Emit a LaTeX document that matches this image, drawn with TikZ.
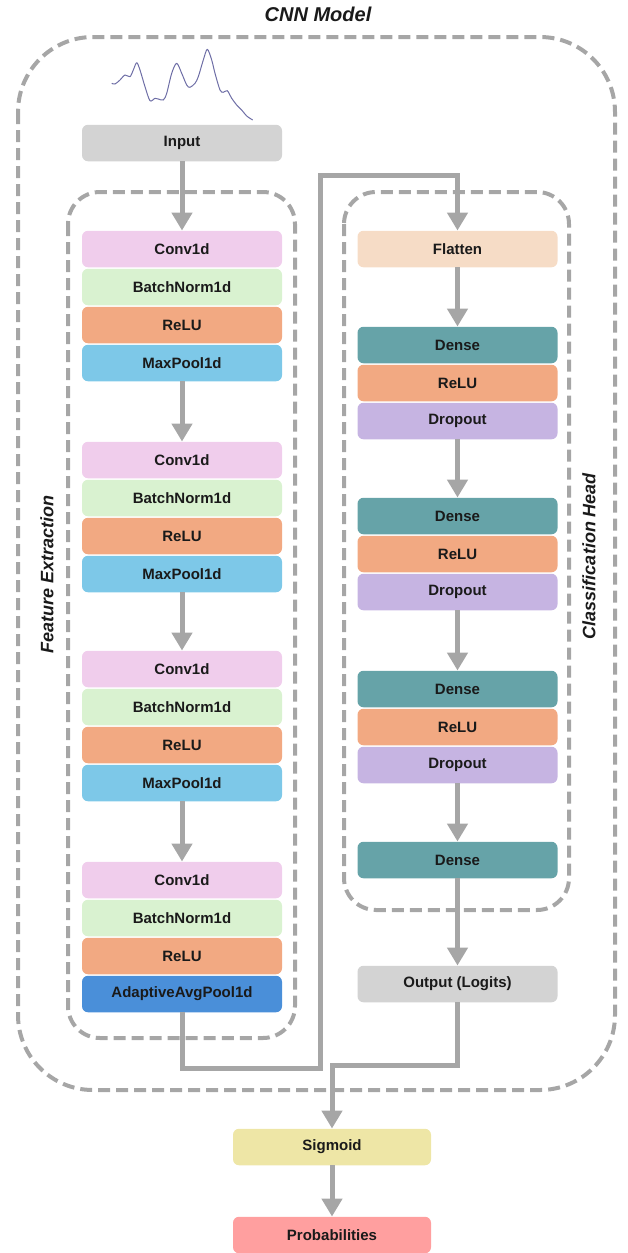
\documentclass[tikz,border=0pt]{standalone}
\usepackage{fontspec}
\setmainfont{Liberation Sans}
\usetikzlibrary{arrows.meta}
\definecolor{lingray}{HTML}{A6A6A6}
\definecolor{cInput}{HTML}{D3D3D3}
\definecolor{cConv}{HTML}{F0CDEC}
\definecolor{cBN}{HTML}{D9F2D0}
\definecolor{cRelu}{HTML}{F2A982}
\definecolor{cPool}{HTML}{7DC8E8}
\definecolor{cAda}{HTML}{4A8FD9}
\definecolor{cFlat}{HTML}{F6DCC6}
\definecolor{cDense}{HTML}{66A3A8}
\definecolor{cDrop}{HTML}{C6B4E2}
\definecolor{cSig}{HTML}{EEE6A6}
\definecolor{cProb}{HTML}{FF9F9F}
\definecolor{cWave}{HTML}{6E6EA6}
\definecolor{cText}{HTML}{1A1A1A}
\tikzset{
  layer/.style={rectangle, rounded corners=6pt, minimum width=200pt, minimum height=36.5pt, inner sep=0pt, text=cText, font=\fontsize{15}{18}\bfseries\selectfont},
  arr/.style={draw=lingray, line width=5pt, -{Triangle[width=20pt,length=18pt]}},
  grp/.style={draw=lingray, line width=4pt, dash pattern=on 12pt off 6pt},
  grplabel/.style={font=\fontsize{18}{21}\bfseries\itshape\selectfont, text=cText},
}
\begin{document}
\begin{tikzpicture}[x=1pt,y=-1pt]
\useasboundingbox (0,0) rectangle (628,1253);
% groups
\draw[grp, rounded corners=75pt] (18,37) rectangle (615,1090);
\draw[grp, rounded corners=32pt] (68,192) rectangle (295,1038);
\draw[grp, rounded corners=32pt] (344,192) rectangle (569,910);
\node[font=\fontsize{20}{24}\bfseries\itshape\selectfont, text=cText] (title) at (318,14) {CNN Model};
\node[grplabel, rotate=90] (fe) at (47,574) {Feature Extraction};
\node[grplabel, rotate=90] (ch) at (589,556) {Classification Head};
% waveform
\draw[cWave, line width=1pt, line join=round] plot[smooth, tension=0.5] coordinates {
(111.7,83.3) (115,84) (120,80) (125,75) (130,76.7) (133.3,70) (136.7,62.7) (140,70) (145,86.7) (150,100.7) (155,98.3) (158.3,99) (163.3,100) (166.7,93.3) (171.7,73.3) (176.7,63.3) (181.7,73.3) (186.7,85) (190,87.3) (195,83.3) (198.3,76.7) (203.3,60) (207.3,49.3) (211.7,60) (215,73.3) (220,90) (223.3,92.3) (227.3,90.7) (231.7,98.3) (236.7,105) (241.7,110) (246.7,116) (252.7,120)};
% left column
\node[layer, fill=cInput] (inp) at (182,143) {Input};
\node[layer, fill=cConv] (c1) at (182,249) {Conv1d};
\node[layer, fill=cBN] (b1) at (182,287) {BatchNorm1d};
\node[layer, fill=cRelu] (r1) at (182,325) {ReLU};
\node[layer, fill=cPool] (p1) at (182,363) {MaxPool1d};
\node[layer, fill=cConv] (c2) at (182,460) {Conv1d};
\node[layer, fill=cBN] (b2) at (182,498) {BatchNorm1d};
\node[layer, fill=cRelu] (r2) at (182,536) {ReLU};
\node[layer, fill=cPool] (p2) at (182,574) {MaxPool1d};
\node[layer, fill=cConv] (c3) at (182,669) {Conv1d};
\node[layer, fill=cBN] (b3) at (182,707) {BatchNorm1d};
\node[layer, fill=cRelu] (r3) at (182,745) {ReLU};
\node[layer, fill=cPool] (p3) at (182,783) {MaxPool1d};
\node[layer, fill=cConv] (c4) at (182,880) {Conv1d};
\node[layer, fill=cBN] (b4) at (182,918) {BatchNorm1d};
\node[layer, fill=cRelu] (r4) at (182,956) {ReLU};
\node[layer, fill=cAda] (ada) at (182,994) {AdaptiveAvgPool1d};
% right column
\node[layer, fill=cFlat] (fl) at (457.5,249) {Flatten};
\node[layer, fill=cDense] (d1) at (457.5,345) {Dense};
\node[layer, fill=cRelu] (rr1) at (457.5,383) {ReLU};
\node[layer, fill=cDrop] (dr1) at (457.5,421) {Dropout};
\node[layer, fill=cDense] (d2) at (457.5,516) {Dense};
\node[layer, fill=cRelu] (rr2) at (457.5,554) {ReLU};
\node[layer, fill=cDrop] (dr2) at (457.5,592) {Dropout};
\node[layer, fill=cDense] (d3) at (457.5,689) {Dense};
\node[layer, fill=cRelu] (rr3) at (457.5,727) {ReLU};
\node[layer, fill=cDrop] (dr3) at (457.5,765) {Dropout};
\node[layer, fill=cDense] (d4) at (457.5,860) {Dense};
\node[layer, fill=cInput] (out) at (457.5,984) {Output (Logits)};
\node[layer, fill=cSig, minimum width=198pt] (sig) at (332,1147) {Sigmoid};
\node[layer, fill=cProb, minimum width=198pt] (prob) at (332,1235) {Probabilities};
% connectors
\coordinate (j1) at (320,1068);
\coordinate (j2) at (320,175);
\coordinate (j3) at (332,1065);
\draw[arr] (inp) -- (c1);
\draw[arr] (p1) -- (c2);
\draw[arr] (p2) -- (c3);
\draw[arr] (p3) -- (c4);
\draw[arr] (ada.south) |- (j1) -- (j2) -| (fl.north);
\draw[arr] (fl) -- (d1);
\draw[arr] (dr1) -- (d2);
\draw[arr] (dr2) -- (d3);
\draw[arr] (dr3) -- (d4);
\draw[arr] (d4) -- (out);
\draw[arr] (out.south) |- (j3) -- (sig.north);
\draw[arr] (sig) -- (prob);
\end{tikzpicture}
\end{document}
